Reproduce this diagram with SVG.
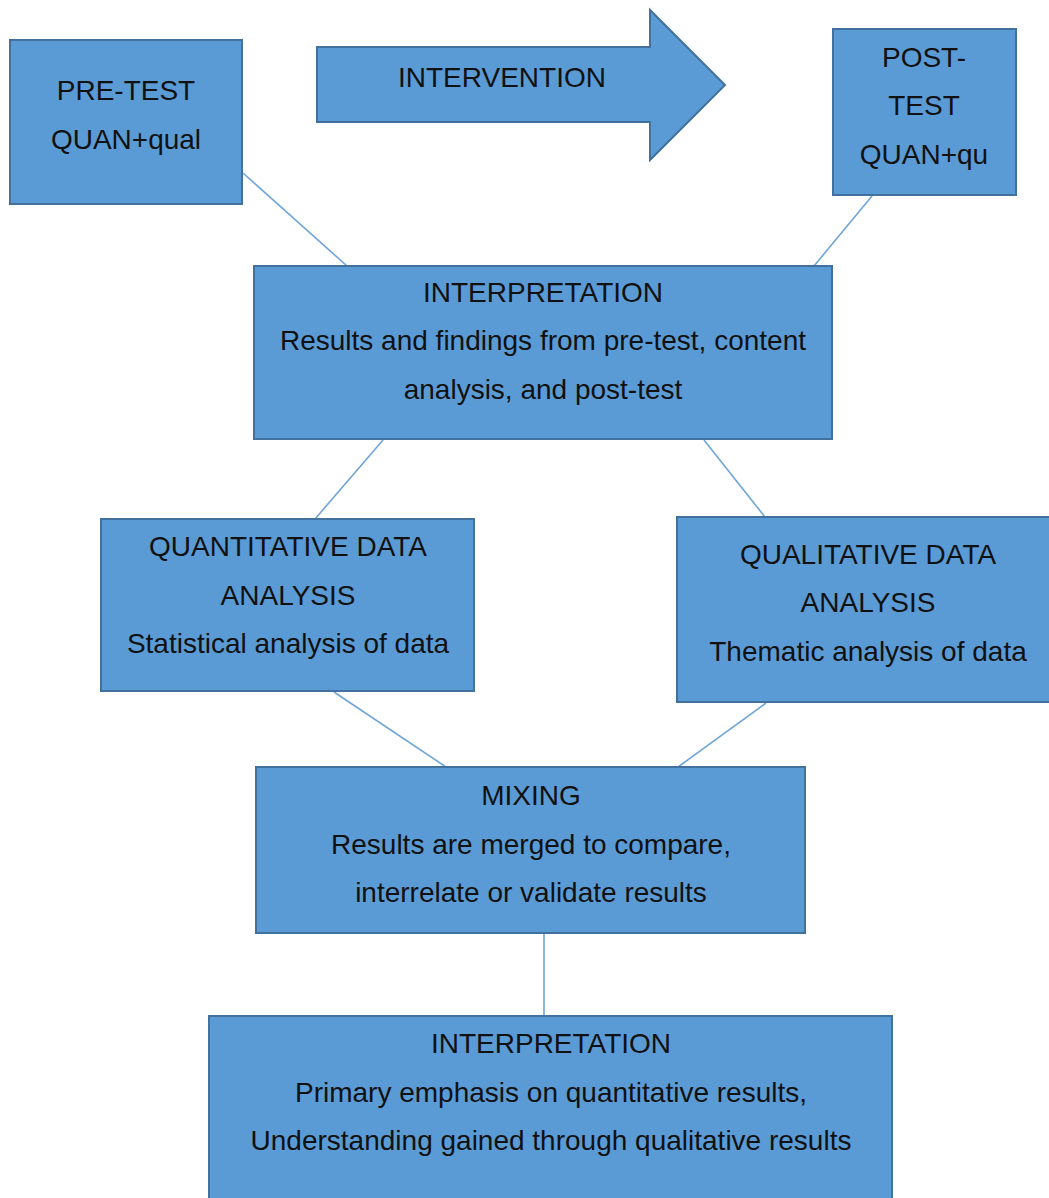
<svg xmlns="http://www.w3.org/2000/svg" width="1049" height="1198" viewBox="0 0 1049 1198">
  <style>
    .box { fill: #5B9BD5; stroke: #41719C; stroke-width: 2; }
    .lbl { font-family: "Liberation Sans", Arial, sans-serif; font-size: 28px; fill: #111; text-anchor: middle; }
    .link { stroke: #6FA5D8; stroke-width: 1.6; fill: none; }
  </style>
  <rect width="1049" height="1198" fill="#ffffff"/>

  <g id="connectors">
    <line class="link" x1="243" y1="173" x2="347" y2="266"/>
    <line class="link" x1="872" y1="196" x2="814" y2="266"/>
    <line class="link" x1="383" y1="440" x2="315" y2="519"/>
    <line class="link" x1="704" y1="440" x2="765" y2="517"/>
    <line class="link" x1="334" y1="692" x2="446" y2="767"/>
    <line class="link" x1="766" y1="703" x2="678" y2="767"/>
    <line class="link" x1="544" y1="934" x2="544" y2="1016"/>
  </g>

  <g id="pre-test">
    <rect class="box" x="10" y="40" width="232" height="164"/>
    <text class="lbl" x="126" y="100">PRE-TEST</text>
    <text class="lbl" x="126" y="149">QUAN+qual</text>
  </g>

  <g id="intervention">
    <polygon class="box" points="317,47 650,47 650,10 725,85 650,160 650,122 317,122"/>
    <text class="lbl" x="502" y="87">INTERVENTION</text>
  </g>

  <g id="post-test">
    <rect class="box" x="833" y="29" width="183" height="166"/>
    <text class="lbl" x="924" y="67">POST-</text>
    <text class="lbl" x="924" y="115">TEST</text>
    <text class="lbl" x="924" y="164">QUAN+qu</text>
  </g>

  <g id="interpretation-1">
    <rect class="box" x="254" y="266" width="578" height="173"/>
    <text class="lbl" x="543" y="302">INTERPRETATION</text>
    <text class="lbl" x="543" y="350">Results and findings from pre-test, content</text>
    <text class="lbl" x="543" y="399">analysis, and post-test</text>
  </g>

  <g id="quantitative">
    <rect class="box" x="101" y="519" width="373" height="172"/>
    <text class="lbl" x="288" y="556">QUANTITATIVE DATA</text>
    <text class="lbl" x="288" y="605">ANALYSIS</text>
    <text class="lbl" x="288" y="653">Statistical analysis of data</text>
  </g>

  <g id="qualitative">
    <rect class="box" x="677" y="517" width="380" height="185"/>
    <text class="lbl" x="868" y="564">QUALITATIVE DATA</text>
    <text class="lbl" x="868" y="612">ANALYSIS</text>
    <text class="lbl" x="868" y="661">Thematic analysis of data</text>
  </g>

  <g id="mixing">
    <rect class="box" x="256" y="767" width="549" height="166"/>
    <text class="lbl" x="531" y="805">MIXING</text>
    <text class="lbl" x="531" y="854">Results are merged to compare,</text>
    <text class="lbl" x="531" y="902">interrelate or validate results</text>
  </g>

  <g id="interpretation-2">
    <rect class="box" x="209" y="1016" width="683" height="200"/>
    <text class="lbl" x="551" y="1053">INTERPRETATION</text>
    <text class="lbl" x="551" y="1102">Primary emphasis on quantitative results,</text>
    <text class="lbl" x="551" y="1150">Understanding gained through qualitative results</text>
  </g>
</svg>
